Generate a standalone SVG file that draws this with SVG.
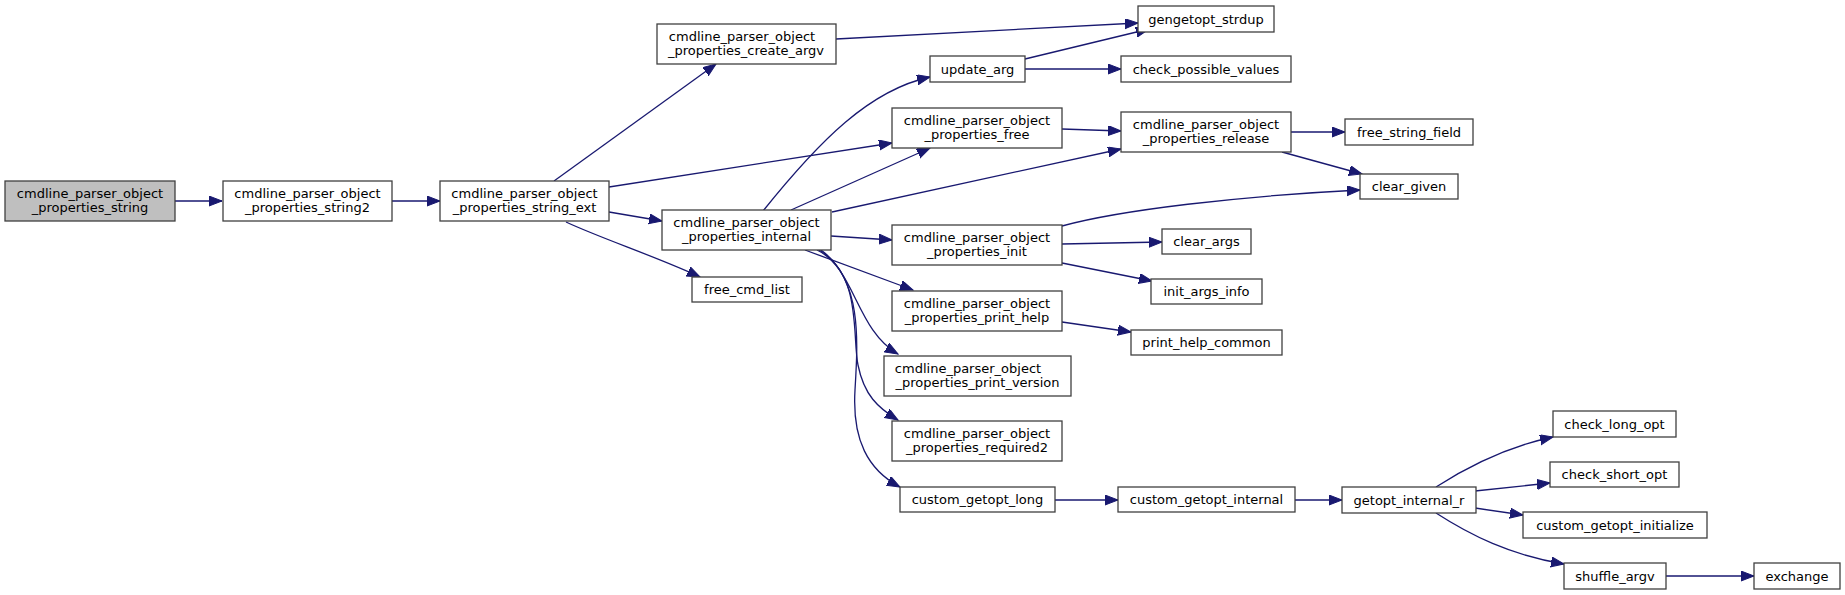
<svg xmlns="http://www.w3.org/2000/svg" width="1845" height="595" viewBox="0 0 1845 595">
<defs>
<marker id="arr" markerUnits="userSpaceOnUse" markerWidth="16" markerHeight="12" refX="13" refY="5" orient="auto">
<path d="M0,0 L13,5 L0,10 z" fill="#191970" stroke="#191970" stroke-width="1"/>
</marker>
<style>
.n rect{fill:#ffffff;stroke:#404040;stroke-width:1.3}
.n.root rect{fill:#bfbfbf}
.n text{font-family:"DejaVu Sans",sans-serif;font-size:13px;fill:#000;text-anchor:middle}
#edges path{fill:none;stroke:#191970;stroke-width:1.3;marker-end:url(#arr)}
</style>
</defs>
<rect width="1845" height="595" fill="#ffffff"/>
<g id="edges">
<path d="M175,201 L222,201"/>
<path d="M392,201 L440,201"/>
<path d="M554,181 L716,64"/>
<path d="M609,187 L892,143"/>
<path d="M609,212 L662,221"/>
<path d="M566,222 C600,238 660,258 700,277"/>
<path d="M836,39 L1138,23"/>
<path d="M1025,59 L1149,29"/>
<path d="M1025,69 L1121,69"/>
<path d="M1062,129 L1121,131"/>
<path d="M763,211 C820,140 870,90 930,77"/>
<path d="M791,210 L930,148"/>
<path d="M832,212 L1121,149"/>
<path d="M831,236 L892,240"/>
<path d="M805,250 L913,290"/>
<path d="M817,250 C855,268 856,330 898,354"/>
<path d="M819,250 C862,275 852,335 858,365 C864,395 878,408 898,420"/>
<path d="M821,250 C862,280 858,340 855,390 C852,440 868,470 900,487"/>
<path d="M1291,132 L1345,132"/>
<path d="M1282,152 L1362,174"/>
<path d="M1062,226 C1120,210 1240,196 1360,190"/>
<path d="M1062,244 L1162,242"/>
<path d="M1062,263 L1152,281"/>
<path d="M1062,322 L1131,332"/>
<path d="M1055,500 L1118,500"/>
<path d="M1295,500 L1342,500"/>
<path d="M1436,487 C1475,462 1515,445 1553,437"/>
<path d="M1475,491 L1550,483"/>
<path d="M1475,508 L1523,515"/>
<path d="M1436,513 C1470,535 1510,555 1564,564"/>
<path d="M1666,576 L1754,576"/>
</g>
<g id="n_string" class="n root"><rect x="5" y="181" width="170" height="40"/><text x="90" y="197.5">cmdline_parser_object</text><text x="90" y="212">_properties_string</text></g>
<g id="n_string2" class="n"><rect x="223" y="181" width="169" height="40"/><text x="307.5" y="197.5">cmdline_parser_object</text><text x="307.5" y="212">_properties_string2</text></g>
<g id="n_string_ext" class="n"><rect x="440" y="181" width="169" height="40"/><text x="524.5" y="197.5">cmdline_parser_object</text><text x="524.5" y="212">_properties_string_ext</text></g>
<g id="n_create_argv" class="n"><rect x="657" y="24" width="179" height="40"/><text x="742" y="40.5">cmdline_parser_object</text><text x="746" y="55">_properties_create_argv</text></g>
<g id="n_internal" class="n"><rect x="662" y="210" width="169" height="40"/><text x="746.5" y="226.5">cmdline_parser_object</text><text x="746.5" y="241">_properties_internal</text></g>
<g id="n_free_cmd_list" class="n"><rect x="692" y="277" width="110" height="25"/><text x="747" y="294">free_cmd_list</text></g>
<g id="n_gengetopt_strdup" class="n"><rect x="1138" y="6" width="136" height="26"/><text x="1206" y="23.5">gengetopt_strdup</text></g>
<g id="n_update_arg" class="n"><rect x="930" y="56" width="95" height="26"/><text x="977.5" y="73.5">update_arg</text></g>
<g id="n_check_possible_values" class="n"><rect x="1121" y="56" width="170" height="26"/><text x="1206" y="73.5">check_possible_values</text></g>
<g id="n_free" class="n"><rect x="892" y="108" width="170" height="40"/><text x="977" y="124.5">cmdline_parser_object</text><text x="977" y="139">_properties_free</text></g>
<g id="n_release" class="n"><rect x="1121" y="112" width="170" height="40"/><text x="1206" y="128.5">cmdline_parser_object</text><text x="1206" y="143">_properties_release</text></g>
<g id="n_free_string_field" class="n"><rect x="1345" y="119" width="128" height="26"/><text x="1409" y="136.5">free_string_field</text></g>
<g id="n_clear_given" class="n"><rect x="1360" y="174" width="98" height="25"/><text x="1409" y="191">clear_given</text></g>
<g id="n_init" class="n"><rect x="892" y="225" width="170" height="40"/><text x="977" y="241.5">cmdline_parser_object</text><text x="977" y="256">_properties_init</text></g>
<g id="n_clear_args" class="n"><rect x="1162" y="229" width="89" height="25"/><text x="1206.5" y="246">clear_args</text></g>
<g id="n_init_args_info" class="n"><rect x="1151" y="279" width="111" height="25"/><text x="1206.5" y="296">init_args_info</text></g>
<g id="n_print_help" class="n"><rect x="892" y="291" width="170" height="40"/><text x="977" y="307.5">cmdline_parser_object</text><text x="977" y="322">_properties_print_help</text></g>
<g id="n_print_help_common" class="n"><rect x="1131" y="330" width="151" height="25"/><text x="1206.5" y="347">print_help_common</text></g>
<g id="n_print_version" class="n"><rect x="884" y="356" width="187" height="40"/><text x="968" y="372.5">cmdline_parser_object</text><text x="977.5" y="387">_properties_print_version</text></g>
<g id="n_required2" class="n"><rect x="892" y="421" width="170" height="40"/><text x="977" y="437.5">cmdline_parser_object</text><text x="977" y="452">_properties_required2</text></g>
<g id="n_custom_getopt_long" class="n"><rect x="900" y="487" width="155" height="25"/><text x="977.5" y="504">custom_getopt_long</text></g>
<g id="n_custom_getopt_internal" class="n"><rect x="1118" y="487" width="177" height="25"/><text x="1206.5" y="504">custom_getopt_internal</text></g>
<g id="n_getopt_internal_r" class="n"><rect x="1342" y="487" width="134" height="26"/><text x="1409" y="504.5">getopt_internal_r</text></g>
<g id="n_check_long_opt" class="n"><rect x="1553" y="411" width="123" height="26"/><text x="1614.5" y="428.5">check_long_opt</text></g>
<g id="n_check_short_opt" class="n"><rect x="1550" y="462" width="129" height="25"/><text x="1614.5" y="479">check_short_opt</text></g>
<g id="n_custom_getopt_initialize" class="n"><rect x="1523" y="512" width="184" height="26"/><text x="1615" y="529.5">custom_getopt_initialize</text></g>
<g id="n_shuffle_argv" class="n"><rect x="1564" y="563" width="102" height="26"/><text x="1615" y="580.5">shuffle_argv</text></g>
<g id="n_exchange" class="n"><rect x="1754" y="563" width="86" height="26"/><text x="1797" y="580.5">exchange</text></g>
</svg>
